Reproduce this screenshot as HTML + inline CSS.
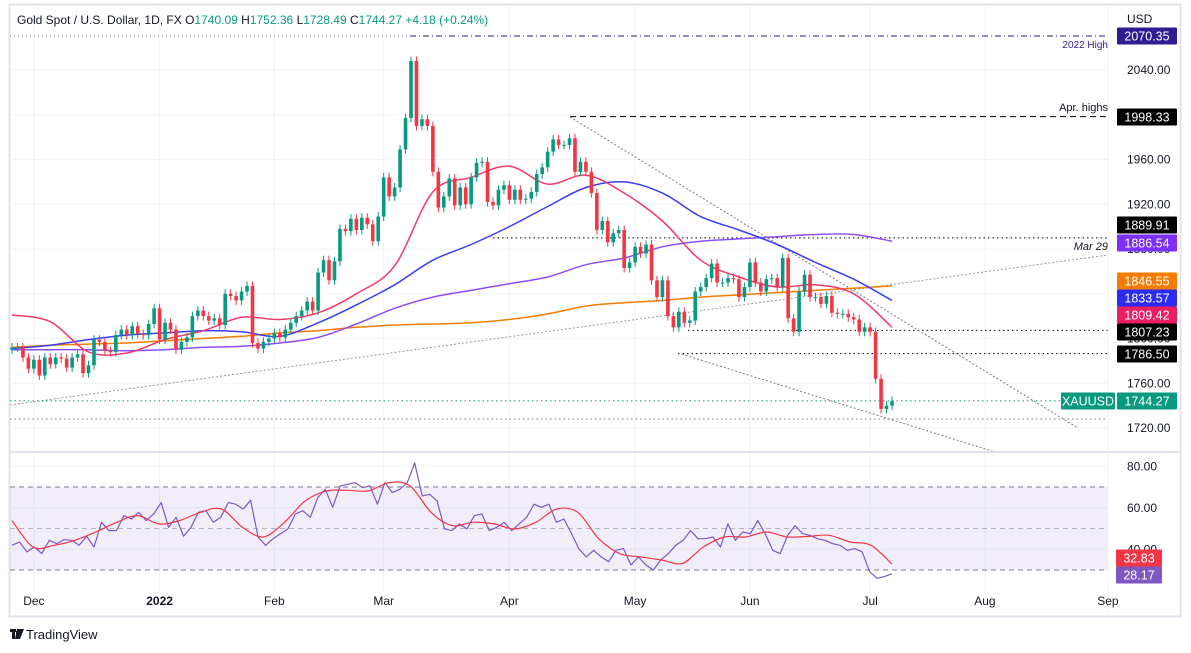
<!DOCTYPE html>
<html><head><meta charset="utf-8"><style>
html,body{margin:0;padding:0;background:#fff;}
svg{display:block;font-family:"Liberation Sans",sans-serif;}
</style></head><body>
<svg id="chart" width="1191" height="653" viewBox="0 0 1191 653" xmlns="http://www.w3.org/2000/svg">
<rect x="0" y="0" width="1191" height="653" fill="#fff"/>
<rect x="9.5" y="4.5" width="1171" height="612" fill="none" stroke="#e0e3eb" stroke-width="2"/>
<g id="grid"></g>
<g id="rsiBand"></g>
<g id="lines"></g>
<g id="mas"></g>
<g id="candles"></g>
<g id="rsi"></g>
<line x1="10" y1="452" x2="1180" y2="452" stroke="#e0e3eb" stroke-width="2"/>
<line x1="1108" y1="5" x2="1108" y2="616" stroke="#f0f3fa" stroke-width="1"/>
<g id="axis"></g>
<text x="17" y="24" font-size="12" fill="#131722">Gold Spot / U.S. Dollar, 1D, FX <tspan fill="#131722">O</tspan><tspan fill="#089981">1740.09</tspan> <tspan fill="#131722">H</tspan><tspan fill="#089981">1752.36</tspan> <tspan fill="#131722">L</tspan><tspan fill="#089981">1728.49</tspan> <tspan fill="#131722">C</tspan><tspan fill="#089981">1744.27</tspan> <tspan fill="#089981">+4.18 (+0.24%)</tspan></text>
<text x="1127" y="23" font-size="12" fill="#131722">USD</text>
<g>
<rect x="10" y="629" width="6" height="3" fill="#131722"/><rect x="12" y="629" width="3" height="10" fill="#131722"/>
<path d="M17 629 h4 l-3 10 h-3z" fill="#131722"/><rect x="16" y="631" width="3" height="3" fill="#131722"/>
<path d="M20 629 h4 l-4 10 h-2z" fill="#131722"/>
<text x="26" y="639" font-size="13" fill="#131722">TradingView</text>
</g>
</svg>
<script>
const closes=[1792,1792,1783,1773,1781,1767,1783,1777,1783,1782,1774,1783,1786,1769,1776,1799,1797,1789,1788,1803,1808,1803,1811,1804,1803,1813,1827,1799,1814,1808,1790,1797,1801,1820,1825,1820,1816,1818,1812,1840,1838,1834,1842,1847,1796,1791,1797,1800,1805,1801,1808,1814,1820,
1825,1833,1825,1859,1870,1852,1869,1898,1896,1907,1897,1908,1902,1887,1909,1944,1927,1935,1969,1997,2048,1990,1996,1990,1949,1917,1927,1943,1919,1935,1920,1944,1957,1958,1922,1919,1933,1937,1924,1933,1924,1925,1931,1947,1953,1967,1978,1973,1973,1979,1949,1958,1949,1930,1897,
1905,1886,1894,1897,1863,1868,1882,1876,1884,1852,1837,1852,1820,1810,1824,1814,1816,1842,1846,1854,1867,1850,1850,1854,1853,1837,1846,1868,1850,1842,1853,1854,1846,1872,1818,1806,1842,1857,1837,1837,1831,1838,1823,1822,1822,1819,1817,1806,1810,1806,1764,1737,1740,1744];
const firstOpen=1790;
const wick=4;
const ma20=[1821,1815,1788,1787,1799,1807,1819,1817,1823,1840,1865,1931,1944,1954,1938,1946,1930,1905,1870,1855,1846,1848,1840,1810];
const ma50=[1791,1794,1799,1803,1805,1807,1806,1802,1814,1830,1848,1870,1884,1900,1918,1935,1940,1930,1909,1897,1884,1868,1853,1834];
const ma100=[1790,1790,1790,1789,1790,1792,1793,1796,1801,1813,1827,1837,1843,1849,1855,1866,1872,1882,1887,1889,1891,1893,1893,1887];
const ma200=[1792,1794,1795,1796,1798,1800,1802,1805,1807,1810,1812,1813,1814,1817,1822,1829,1832,1834,1837,1839,1841,1843,1845,1847];
const rsiVals=[41.9,43.5,38.7,41.1,37.9,44.3,42.7,44.6,44.3,41.9,46.2,41.1,53.0,49.0,49.0,56.2,54.6,57.8,53.8,57.0,62.5,50.6,55.4,46.3,50.6,57.8,58.6,53.0,55.4,62.5,61.7,59.4,63.6,45.9,41.9,45.1,47.5,49.8,57.0,58.6,55.4,64.9,68.9,60.2,70.5,71.3,72.1,69.7,70.5,61.7,72.1,67.3,68.9,72.1,81.6,65.7,66.5,63.3,49.8,49.0,52.2,49.8,56.2,57.0,49.0,50.6,53.0,49.0,52.2,55.4,61.7,60.2,61.7,53.0,54.6,47.8,40.3,36.3,39.5,36.3,34.0,39.5,40.3,32.4,36.3,32.4,30.0,34.8,37.9,41.9,44.3,49.0,45.1,45.1,45.9,41.1,52.2,44.3,48.3,47.5,53.8,47.5,39.5,37.9,46.7,51.4,47.5,46.7,45.1,44.3,42.7,41.9,39.5,40.3,38.7,29.2,26.0,26.8,28.17];
const rsiMa=[53.8,41.1,41.9,44.3,48.3,53.0,56.2,52.2,53.8,57.8,59.4,50.6,45.9,53.0,63.3,68.1,68.4,68.1,72.1,70.5,57.8,51.4,53.0,52.2,49.8,53.0,59.4,57.8,45.1,37.9,36.3,34.8,33.2,41.1,45.9,45.9,48.3,45.9,46.2,46.7,43.5,41.9,32.83];
const priceTicks=[1720,1760,1800,1840,1880,1920,1960,2000,2040];
const rsiTicks=[40,60,80];
const monthLabels=["Dec","2022","Feb","Mar","Apr","May","Jun","Jul","Aug","Sep"];
const monthIdx=[4,27,48,68,91,114,135,157,178,200.5];
const priceTags=[[2070.35,"#311b92"],[1998.33,"#000"],[1889.91,"#000"],[1886.54,"#7b2ff7"],[1846.55,"#f57c00"],[1833.57,"#2b2bf5"],[1809.42,"#e91e63"],[1807.23,"#000"],[1786.50,"#000"]];

const NS="http://www.w3.org/2000/svg";
function el(tag,attrs,parent){const e=document.createElementNS(NS,tag);for(const k in attrs)e.setAttribute(k,attrs[k]);parent.appendChild(e);return e;}
const N=closes.length;
const step=(892-12)/161;
const xi=i=>12+i*step;
const yp=p=>428-(p-1720)*1.11875;
const yr=r=>570-(r-30)*2.075;
const G=id=>document.getElementById(id);
function smooth(pts){let d='M'+pts[0][0].toFixed(1)+','+pts[0][1].toFixed(1);
for(let i=0;i<pts.length-1;i++){const p0=pts[i-1]||pts[i],p1=pts[i],p2=pts[i+1],p3=pts[i+2]||p2;
const c1=[p1[0]+(p2[0]-p0[0])/6,p1[1]+(p2[1]-p0[1])/6],c2=[p2[0]-(p3[0]-p1[0])/6,p2[1]-(p3[1]-p1[1])/6];
d+=' C'+c1[0].toFixed(1)+','+c1[1].toFixed(1)+' '+c2[0].toFixed(1)+','+c2[1].toFixed(1)+' '+p2[0].toFixed(1)+','+p2[1].toFixed(1);}
return d;}

monthIdx.forEach(m=>{const l=el('line',{x1:xi(m),y1:5,x2:xi(m),y2:592,stroke:'#f0f3fa'},G('grid'));

});
priceTicks.forEach(p=>{const l=el('line',{x1:10,y1:yp(p),x2:1108,y2:yp(p),stroke:'#f0f3fa'},G('grid'));

});
rsiTicks.forEach(r=>{const l=el('line',{x1:10,y1:yr(r),x2:1108,y2:yr(r),stroke:'#f0f3fa'},G('grid'));

});

const band=el('rect',{x:10,y:yr(70),width:1098,height:yr(30)-yr(70),fill:'rgba(126,87,194,0.1)'},G('rsiBand'));


[[70,'#787b86','5,4'],[50,'#b2b5be','5,4'],[30,'#787b86','5,4']].forEach(([v,c,d])=>{const l=el('line',{x1:10,y1:yr(v),x2:1108,y2:yr(v),stroke:c,'stroke-dasharray':d},G('rsiBand'));

});

function ln(a,name){const l=el('line',a,G('lines'));return l;}
ln({x1:10,y1:yp(2070.35),x2:410,y2:yp(2070.35),stroke:'#787b86','stroke-dasharray':'1,3'},'high-dotted');
ln({x1:410,y1:yp(2070.35),x2:1108,y2:yp(2070.35),stroke:'#311b92','stroke-dasharray':'6,3,1,3'},'high-2022-line');
ln({x1:570,y1:yp(1998.33),x2:1108,y2:yp(1998.33),stroke:'#000','stroke-dasharray':'6,4'},'april-highs-line');
ln({x1:493,y1:yp(1889.91),x2:1108,y2:yp(1889.91),stroke:'#000','stroke-dasharray':'1.5,3'},'level-1889');
ln({x1:688,y1:yp(1807.23),x2:1108,y2:yp(1807.23),stroke:'#000','stroke-dasharray':'1.5,3'},'level-1807');
ln({x1:678,y1:yp(1786.5),x2:1108,y2:yp(1786.5),stroke:'#000','stroke-dasharray':'1.5,3'},'level-1786');
ln({x1:570,y1:117,x2:1078,y2:428,stroke:'#787b86','stroke-dasharray':'2,2'},'descending-trendline');
ln({x1:678,y1:353,x2:995,y2:452,stroke:'#787b86','stroke-dasharray':'2,2'},'lower-trendline');
ln({x1:10,y1:405,x2:1108,y2:255,stroke:'#9598a1','stroke-dasharray':'2,2'},'ascending-trendline');
ln({x1:10,y1:yp(1744.27),x2:1060,y2:yp(1744.27),stroke:'#089981','stroke-dasharray':'1.5,3'},'last-price-line');
ln({x1:10,y1:419,x2:1108,y2:419,stroke:'#787b86','stroke-dasharray':'1.5,3'},'level-1728');
function lbl(x,y,t,c,name,extra){const e=el('text',Object.assign({x:x,y:y,'font-size':11,fill:c,'text-anchor':'end'},extra||{}),G('lines'));e.textContent=t;}
lbl(1108,48,'2022 High','#311b92','high-label',{'font-size':10});
lbl(1108,111,'Apr. highs','#131722','april-highs-label');
lbl(1108,250,'Mar 29','#131722','mar29-label',{'font-style':'italic'});

function maLine(arr,color,name){const k=(N-1)/(arr.length-1);const pts=arr.map((v,j)=>[xi(j*k),yp(v)]);
const p=el('path',{d:smooth(pts),fill:'none',stroke:color,'stroke-width':1.5,'stroke-linejoin':'round'},G('mas'));

}
maLine(ma200,'#f57c00','sma-200');
maLine(ma100,'#8c4df5','sma-100');
maLine(ma50,'#3b3bf5','sma-50');
maLine(ma20,'#f23a6a','sma-20');

for(let i=0;i<N;i++){const o=i?closes[i-1]:firstOpen,c=closes[i];const up=c>=o;const col=up?'#089981':'#f23645';
let h=Math.max(o,c)+wick,l=Math.min(o,c)-wick;
const x=xi(i);const g=el('g',{},G('candles'));


el('line',{x1:x,y1:yp(h),x2:x,y2:yp(l),stroke:col,'stroke-width':1},g);
const t=yp(Math.max(o,c)),b=yp(Math.min(o,c));
el('rect',{x:x-1.8,y:t,width:3.6,height:Math.max(1,b-t),fill:col},g);}

function rLine(arr,color,name,sm){const k=(N-1)/(arr.length-1);const pts=arr.map((v,j)=>[xi(j*k),yr(v)]);
const d=sm?smooth(pts):'M'+pts.map(p=>p[0].toFixed(1)+','+p[1].toFixed(1)).join(' L');
const p=el('path',{d:d,fill:'none',stroke:color,'stroke-width':1.2,'stroke-linejoin':'round'},G('rsi'));

}
rLine(rsiVals,'#7e57c2','rsi-line',false);
rLine(rsiMa,'#f23645','rsi-ma-line',true);

const ax=G('axis');
priceTicks.forEach(p=>{const t=el('text',{x:1127,y:yp(p)+4,'font-size':12,fill:'#131722'},ax);t.textContent=p.toFixed(2);

});
rsiTicks.forEach(r=>{const t=el('text',{x:1127,y:yr(r)+4,'font-size':12,fill:'#131722'},ax);t.textContent=r.toFixed(2);

});
monthLabels.forEach((m,j)=>{const t=el('text',{x:xi(monthIdx[j]),y:605,'font-size':12,fill:'#131722','text-anchor':'middle','font-weight':m==='2022'?'bold':'normal'},ax);t.textContent=m;

});
function tag(y,txt,bg,name,x,w){const g=el('g',{},ax);
el('rect',{x:x||1117,y:y-8.5,width:w||60,height:17,fill:bg,rx:1},g);
const t=el('text',{x:(x||1117)+(w||60)/2,y:y+4.5,'font-size':12.5,fill:'#fff','text-anchor':'middle'},g);t.textContent=txt;}
const tagY=[36,117,225,243,281,298,315,332,354];
priceTags.forEach((pt,j)=>tag(tagY[j],pt[0].toFixed(2),pt[1],'price-tag-'+pt[0]));
tag(401,'1744.27','#089981','last-price-tag');
tag(401,'XAUUSD','#089981','symbol-tag',1061,54);
tag(558,'32.83','#f23645','rsi-ma-tag',1116,46);
tag(575,'28.17','#7e57c2','rsi-tag',1116,46);
</script>
</body></html>
